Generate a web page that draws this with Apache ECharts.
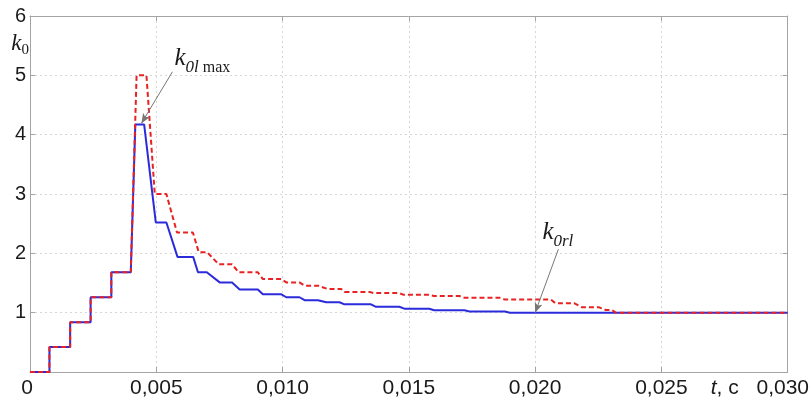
<!DOCTYPE html>
<html>
<head>
<meta charset="utf-8">
<script src="https://cdn.jsdelivr.net/npm/echarts/dist/echarts.min.js"></script>
<style>
  html, body { margin: 0; padding: 0; background: #fff; }
  #chart { width: 812px; height: 401px; }
</style>
</head>
<body>
<div id="chart"></div>
<script>
// Time axis ticks, seconds
const xTicks = [0, 0.005, 0.010, 0.015, 0.020, 0.025, 0.030];
const yTicks = [0, 1, 2, 3, 4, 5, 6];

// k0l — solid blue curve (time, value)
const tBlue = [0, 0.00077, 0.00077, 0.00159, 0.00159, 0.0024, 0.0024, 0.00322, 0.00322, 0.00399,
  0.00417, 0.00452, 0.00498, 0.0054, 0.00584, 0.00646, 0.00665, 0.0070, 0.00751, 0.0080,
  0.0083, 0.00902, 0.00922, 0.00995, 0.01015, 0.01067, 0.01087, 0.0114, 0.01173, 0.01225,
  0.01245, 0.0135, 0.01368, 0.01462, 0.01482, 0.01581, 0.016, 0.0172, 0.0174, 0.0188,
  0.0190, 0.030];
const kBlue = [0, 0, 0.42, 0.42, 0.84, 0.84, 1.26, 1.26, 1.68, 1.68,
  4.17, 4.17, 2.52, 2.52, 1.94, 1.94, 1.68, 1.68, 1.51, 1.51,
  1.39, 1.39, 1.31, 1.31, 1.26, 1.26, 1.21, 1.21, 1.175, 1.175,
  1.14, 1.14, 1.10, 1.10, 1.067, 1.067, 1.04, 1.04, 1.02, 1.02,
  1.0, 1.0];

// k0rl — dashed red curve (time, value)
const tRed = [0, 0.00077, 0.00077, 0.00159, 0.00159, 0.0024, 0.0024, 0.00322, 0.00322, 0.00399,
  0.00422, 0.00461, 0.00494, 0.0054, 0.00582, 0.00645, 0.00668, 0.00701, 0.00747, 0.0080,
  0.00826, 0.00902, 0.00922, 0.00995, 0.01015, 0.01067, 0.01087, 0.0114, 0.01178, 0.01232,
  0.01245, 0.01344, 0.0136, 0.01462, 0.0148, 0.01581, 0.016, 0.017, 0.0172, 0.0186,
  0.0188, 0.02062, 0.0208, 0.02154, 0.02186, 0.02253, 0.0228, 0.02304, 0.02319, 0.030];
const kRed = [0, 0, 0.42, 0.42, 0.84, 0.84, 1.26, 1.26, 1.68, 1.68,
  5.0, 5.0, 3.0, 3.0, 2.35, 2.35, 2.02, 2.02, 1.815, 1.815,
  1.68, 1.68, 1.567, 1.567, 1.51, 1.51, 1.455, 1.455, 1.40, 1.40,
  1.35, 1.35, 1.33, 1.33, 1.30, 1.30, 1.28, 1.28, 1.25, 1.25,
  1.22, 1.22, 1.16, 1.16, 1.09, 1.09, 1.045, 1.045, 1.0, 1.0];

// Annotation arrows: [from, to] in (time, value)
const arrowMax = [[0.00564, 5.06], [0.00441, 4.19]];
const arrowRl = [[0.02092, 2.07], [0.0200, 1.0]];

const pairs = (ts, ks) => ts.map((t, i) => [t, ks[i]]);

const axisGray = '#a4a4a4';
const gridGray = '#d6d6d6';
const textColor = '#1a1a1a';
const sans = 'Liberation Sans, Arial, sans-serif';
const serif = 'Liberation Serif, Times New Roman, serif';

const symRich = {
  k: { fontFamily: serif, fontStyle: 'italic', fontSize: 25, color: textColor, lineHeight: 30, verticalAlign: 'top' },
  s: { fontFamily: serif, fontStyle: 'italic', fontSize: 17, color: textColor, lineHeight: 16, verticalAlign: 'bottom' },
  m: { fontFamily: serif, fontSize: 16, color: textColor, lineHeight: 16, verticalAlign: 'bottom' }
};

const fmtX = v => {
  if (v === 0) return '{first|0}';
  const s = v.toFixed(3).replace('.', ',');
  return Math.abs(v - 0.03) < 1e-9 ? '{last|' + s + '}' : s;
};

const chart = echarts.init(document.getElementById('chart'), null, { renderer: 'canvas' });

chart.setOption({
  animation: false,
  backgroundColor: '#ffffff',
  grid: { left: 30, right: 23, top: 16, bottom: 29, containLabel: false },
  xAxis: [
    {
      type: 'value', min: xTicks[0], max: xTicks[xTicks.length - 1], interval: 0.005, position: 'bottom',
      axisLine: { show: true, onZero: false, lineStyle: { color: axisGray, width: 1 } },
      axisTick: { show: true, inside: true, length: 5, lineStyle: { color: axisGray } },
      splitLine: { show: true, lineStyle: { color: gridGray, width: 1, type: [2, 3] } },
      axisLabel: {
        margin: 6, fontSize: 21, color: textColor, fontFamily: sans, formatter: fmtX,
        rich: {
          first: { fontSize: 21, color: textColor, fontFamily: sans, padding: [0, 6, 0, 0] },
          last: { fontSize: 21, color: textColor, fontFamily: sans, padding: [0, 10, 0, 0] }
        }
      },
      name: '{t|t}, c', nameLocation: 'end', nameGap: -77,
      nameTextStyle: {
        fontSize: 21, color: textColor, fontFamily: sans, align: 'left', verticalAlign: 'top',
        padding: [6, 0, 0, 0],
        rich: { t: { fontSize: 21, color: textColor, fontFamily: sans, fontStyle: 'italic' } }
      }
    },
    {
      type: 'value', min: xTicks[0], max: xTicks[xTicks.length - 1], interval: 0.005, position: 'top',
      axisLine: { show: true, onZero: false, lineStyle: { color: axisGray, width: 1 } },
      axisTick: { show: true, inside: true, length: 5, lineStyle: { color: axisGray } },
      axisLabel: { show: false }, splitLine: { show: false }
    }
  ],
  yAxis: [
    {
      type: 'value', min: yTicks[0], max: yTicks[yTicks.length - 1], interval: 1, position: 'left',
      axisLine: { show: true, onZero: false, lineStyle: { color: axisGray, width: 1 } },
      axisTick: { show: true, inside: true, length: 5, lineStyle: { color: axisGray } },
      splitLine: { show: true, lineStyle: { color: gridGray, width: 1, type: [2, 3] } },
      axisLabel: { margin: 4, fontSize: 20, color: textColor, fontFamily: sans, showMinLabel: false },
      name: '{k|k}{s|0}', nameLocation: 'end', nameGap: -29,
      nameTextStyle: {
        align: 'right', verticalAlign: 'middle', padding: [0, 1, 0, 0],
        rich: {
          k: { fontFamily: serif, fontStyle: 'italic', fontSize: 23, color: textColor, lineHeight: 26, verticalAlign: 'top' },
          s: { fontFamily: serif, fontSize: 15, color: textColor, lineHeight: 15, verticalAlign: 'bottom' }
        }
      }
    },
    {
      type: 'value', min: yTicks[0], max: yTicks[yTicks.length - 1], interval: 1, position: 'right',
      axisLine: { show: true, onZero: false, lineStyle: { color: axisGray, width: 1 } },
      axisTick: { show: true, inside: true, length: 5, lineStyle: { color: axisGray } },
      axisLabel: { show: false }, splitLine: { show: false }
    }
  ],
  series: [
    {
      name: 'k0l', type: 'line', data: pairs(tBlue, kBlue), showSymbol: false, symbol: 'none',
      lineStyle: { color: '#2b2bdb', width: 2 }, z: 2,
      markLine: {
        silent: true, symbol: ['none', 'arrow'], symbolSize: [6, 10], animation: false,
        label: { show: false },
        lineStyle: { color: '#777777', width: 1, type: 'solid' },
        data: [
          [{ coord: arrowMax[0] }, { coord: arrowMax[1] }],
          [{ coord: arrowRl[0] }, { coord: arrowRl[1] }]
        ]
      },
      markPoint: {
        silent: true, symbol: 'circle', symbolSize: 0, animation: false,
        data: [
          {
            coord: arrowMax[0],
            label: { show: true, position: [2, 4], align: 'left', verticalAlign: 'bottom',
              formatter: '{k|k}{s|0l}{m| max}', rich: symRich }
          },
          {
            coord: arrowRl[0],
            label: { show: true, position: [-16, 1], align: 'left', verticalAlign: 'bottom',
              formatter: '{k|k}{s|0rl}', rich: symRich }
          }
        ]
      }
    },
    {
      name: 'k0rl', type: 'line', data: pairs(tRed, kRed), showSymbol: false, symbol: 'none',
      lineStyle: { color: '#e82222', width: 2, type: [5, 3] }, z: 3
    }
  ]
});
</script>
</body>
</html>
